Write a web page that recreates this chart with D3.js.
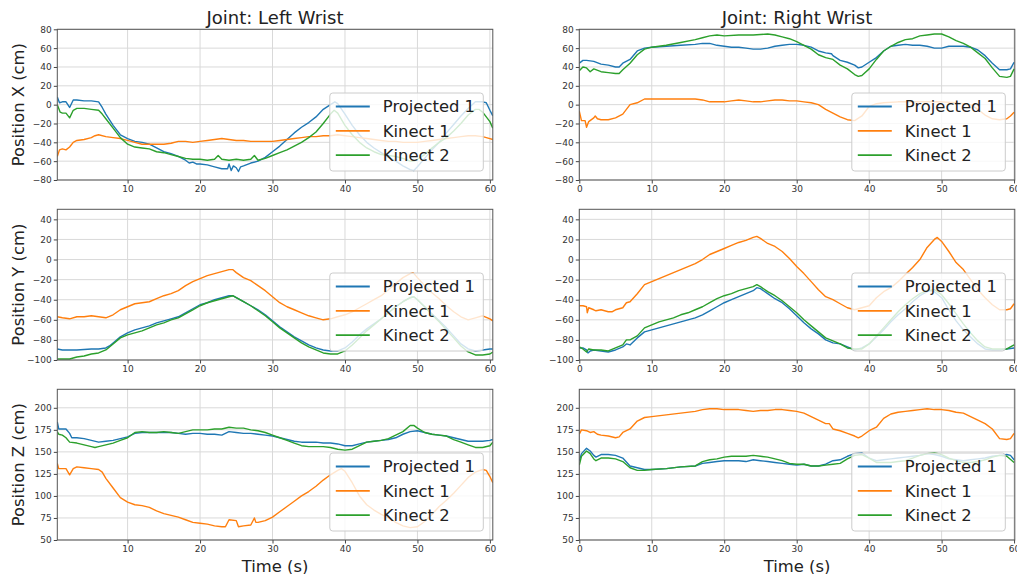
<!DOCTYPE html>
<html>
<head>
<meta charset="utf-8">
<script src="https://cdn.jsdelivr.net/npm/d3@7"></script>
<style>
  body { margin: 0; background: #fff; }
  svg { font-family: "DejaVu Sans", sans-serif; }
</style>
</head>
<body>
<svg id="chart" width="1017" height="574"></svg>
<script>
// series names + colours
var seriesNames = ["Projected 1", "Kinect 1", "Kinect 2"];
var seriesColors = ["#1f77b4", "#ff7f0e", "#2ca02c"];
var joints = ["Joint: Left Wrist", "Joint: Right Wrist"];
var rowLabels = ["Position X (cm)", "Position Y (cm)", "Position Z (cm)"];

// tick labels
var xTicksLeft = [10, 20, 30, 40, 50, 60];
var xTicksRight = [0, 10, 20, 30, 40, 50, 60];
var yTicksX = [-80, -60, -40, -20, 0, 20, 40, 60, 80];
var yTicksY = [-100, -80, -60, -40, -20, 0, 20, 40];
var yTicksZ = [50, 75, 100, 125, 150, 175, 200];

// ---- left wrist, X ----  [time (s), cm]
var leftX_proj = [[0.3,8],[0.6,2],[1,3],[1.5,3],[2,-3],[2.5,5],[3,5],[4,4],[5,4],[6,3],[6.5,-3],[7,-10],[8,-22],[9,-32],[10,-36],[11,-39],[12,-40],[13,-42],[14,-46],[15,-50],[16,-52],[17,-55],[18,-59],[18.5,-62],[19,-61],[19.5,-63],[20,-63],[21,-64],[22,-66],[23,-68],[23.8,-68],[24,-63],[24.3,-70],[24.6,-65],[25,-67],[25.3,-71],[25.6,-66],[26,-65],[27,-62],[28,-60],[29,-56],[30,-50],[31,-44],[32,-37],[33,-30],[34,-24],[35,-19],[36,-13],[37,-5],[38,0],[38.6,3],[39,1],[40,-10],[41,-22],[42,-32],[43,-40],[44,-46],[45,-51],[46,-56],[47,-60],[48,-65],[49,-69],[49.5,-70],[50,-66],[51,-57],[52,-48],[53,-40],[54,-30],[55,-21],[56,-12],[57,-4],[58,3],[59,3],[59.5,2],[60,-6],[60.4,-12]];
var leftX_k1 = [[0.3,-55],[0.6,-48],[1,-47],[1.5,-48],[2,-45],[2.5,-40],[3,-38],[4,-37],[5,-35],[5.5,-33],[6,-32],[7,-34],[8,-35],[9,-36],[10,-38],[11,-40],[12,-42],[13,-42],[14,-42],[15,-42],[16,-41],[17,-39],[18,-39],[19,-40],[20,-39],[21,-38],[22,-37],[23,-36],[24,-37],[25,-38],[26,-38],[27,-39],[28,-39],[29,-39],[30,-39],[31,-38],[32,-37],[33,-36],[34,-35],[35,-34],[36,-34],[37,-33],[38,-33],[39,-32],[40,-33],[41,-34],[42,-35],[43,-36],[44,-37],[45,-38],[46,-39],[47,-39],[48,-40],[49,-40],[50,-40],[51,-39],[52,-38],[53,-37],[54,-36],[55,-35],[56,-34],[57,-33],[58,-33],[59,-34],[60,-36],[60.4,-37]];
var leftX_k2 = [[0.3,0],[0.7,-8],[1,-9],[1.5,-9],[2,-14],[2.5,-6],[3,-4],[4,-4],[5,-5],[6,-6],[6.5,-10],[7,-15],[8,-25],[9,-35],[10,-42],[11,-45],[12,-46],[13,-47],[14,-50],[15,-51],[16,-53],[17,-55],[18,-57],[19,-58],[20,-58],[21,-59],[22,-58],[22.5,-54],[23,-58],[24,-59],[25,-58],[26,-59],[27,-58],[27.5,-54],[28,-59],[29,-57],[30,-54],[31,-51],[32,-48],[33,-44],[34,-40],[35,-35],[36,-29],[37,-20],[38,-10],[38.5,-6],[39,-9],[40,-22],[41,-32],[42,-40],[43,-46],[44,-50],[45,-53],[46,-54],[47,-55],[48,-57],[49,-60],[49.5,-60],[50,-58],[51,-53],[52,-46],[53,-40],[54,-35],[55,-28],[56,-20],[57,-11],[58,-5],[58.5,-5],[59,-8],[60,-18],[60.4,-25]];

// ---- right wrist, X ----
var rightX_proj = [[0,44],[0.5,47],[1,47],[2,46],[3,43],[4,42],[5,40],[5.5,40],[6,44],[7,48],[8,57],[9,60],[10,61],[12,62],[14,63],[16,64],[17,65],[18,65],[19,63],[20,62],[21,61],[22,61],[23,60],[24,59],[25,59],[26,60],[27,62],[28,63],[29,64],[30,64],[31,63],[32,61],[33,57],[34,55],[34.8,54],[35,52],[36,47],[37,45],[38,42],[38.5,39],[39,40],[40,45],[41,50],[42,57],[43,62],[44,63],[45,64],[46,63],[47,63],[48,62],[49,60],[50,60],[51,62],[52,62],[53,62],[54,61],[55,58],[56,52],[57,44],[58,37],[59,37],[59.5,38],[60,45]];
var rightX_k1 = [[0,-7],[0.3,-17],[0.8,-17],[1,-24],[1.3,-18],[2,-14],[2.2,-12],[2.5,-15],[3,-16],[4,-16],[5,-14],[6,-10],[6.5,-5],[7,0],[8,2],[9,6],[10,6],[12,6],[14,6],[16,6],[17,5],[18,3],[19,3],[20,3],[21,4],[22,5],[23,4],[24,3],[25,3],[26,4],[27,5],[28,5],[29,4],[30,4],[31,3],[32,2],[33,0],[34,-5],[35,-9],[36,-13],[37,-16],[38,-17],[39,-12],[40,-2],[41,1],[42,2],[44,3],[46,3],[48,3],[50,3],[52,2],[54,0],[55,-5],[56,-11],[57,-15],[58,-16],[59,-15],[59.5,-12],[60,-8]];
var rightX_k2 = [[0,36],[0.5,40],[1,39],[1.5,35],[2,38],[3,35],[4,34],[5,33],[5.5,33],[6,37],[7,44],[8,53],[9,59],[10,61],[12,63],[14,66],[16,69],[17,71],[18,73],[19,74],[20,73],[22,74],[24,74],[26,75],[27,74],[28,72],[29,70],[30,67],[31,63],[32,59],[33,53],[34,50],[35,48],[36,42],[37,38],[38,32],[38.5,30],[39,31],[40,38],[41,48],[42,57],[43,62],[44,66],[45,69],[46,70],[47,73],[48,74],[49,75],[50,75],[51,72],[52,68],[53,65],[54,61],[55,55],[56,49],[57,39],[58,30],[59,29],[59.5,30],[60,38]];

// ---- left wrist, Y ----
var leftY_proj = [[0.3,-89],[1,-90],[2,-90],[3,-90],[4,-89.5],[5,-89],[6,-89],[7,-88],[7.5,-86],[8,-83],[9,-77],[10,-73],[11,-70],[12,-68],[13,-66],[14,-63],[15,-61],[16,-59],[17,-57],[18,-53],[19,-49],[20,-45],[21,-43],[22,-40],[23,-38],[24,-36],[24.5,-36],[25,-38],[26,-42],[27,-46],[28,-50],[29,-55],[30,-61],[31,-67],[32,-72],[33,-77],[34,-81],[35,-85],[36,-88],[37,-90],[38,-91],[39,-91],[40,-88],[41,-82],[42,-75],[43,-69],[44,-64],[45,-59],[46,-53],[47,-47],[48,-42],[49,-38],[49.5,-37],[50,-40],[51,-47],[52,-54],[53,-61],[54,-68],[55,-76],[56,-84],[57,-89],[58,-91],[59,-90],[60,-89],[60.4,-89]];
var leftY_k1 = [[0.3,-57],[1,-58],[2,-59],[3,-57],[4,-57],[5,-56],[6,-57],[7,-58],[8,-55],[9,-50],[10,-47],[11,-44],[12,-43],[13,-42],[14,-39],[15,-36],[16,-34],[17,-31],[18,-26],[19,-22],[20,-19],[21,-16],[22,-14],[23,-12],[24,-10],[24.5,-10],[25,-13],[26,-18],[27,-21],[28,-26],[29,-31],[30,-37],[31,-43],[32,-47],[33,-50],[34,-53],[35,-56],[36,-58],[37,-60],[38,-59],[39,-57],[40,-55],[41,-52],[42,-48],[43,-44],[44,-40],[45,-36],[46,-30],[47,-24],[48,-18],[49,-14],[49.4,-13],[50,-18],[51,-26],[52,-33],[53,-39],[54,-46],[55,-52],[56,-57],[57,-60],[58,-58],[59,-56],[60,-59],[60.4,-61]];
var leftY_k2 = [[0.3,-99],[1,-99],[2,-99],[3,-97],[4,-96],[5,-94],[6,-93],[7,-90],[8,-84],[9,-78],[10,-75],[11,-73],[12,-71],[13,-68],[14,-65],[15,-63],[16,-60],[17,-58],[18,-54],[19,-50],[20,-46],[21,-43],[22,-41],[23,-39],[24,-37],[24.5,-36],[25,-38],[26,-42],[27,-46],[28,-51],[29,-56],[30,-62],[31,-68],[32,-73],[33,-78],[34,-83],[35,-87],[36,-90],[37,-93],[38,-94],[39,-94],[40,-91],[41,-85],[42,-78],[43,-71],[44,-65],[45,-59],[46,-53],[47,-47],[48,-42],[49,-38],[49.5,-37],[50,-40],[51,-47],[52,-55],[53,-62],[54,-70],[55,-78],[56,-86],[57,-92],[58,-95],[59,-95],[60,-94],[60.4,-92]];

// ---- right wrist, Y ----
var rightY_proj = [[0,-88],[0.5,-88],[1,-90],[1.2,-93],[1.5,-91],[2,-90],[3,-91],[4,-92],[5,-90],[6,-87],[6.5,-84],[7,-85],[8,-78],[9,-72],[10,-70],[11,-68],[12,-66],[13,-64],[14,-62],[15,-60],[16,-58],[17,-55],[18,-51],[19,-47],[20,-43],[21,-40],[22,-37],[23,-34],[24,-31],[24.5,-28],[25,-29],[26,-34],[27,-39],[28,-43],[29,-49],[30,-56],[31,-63],[32,-69],[33,-74],[34,-80],[35,-83],[36,-84],[37,-87],[38,-90],[39,-88],[40,-84],[41,-77],[42,-70],[43,-62],[44,-55],[45,-49],[46,-42],[47,-36],[48,-32],[48.5,-31],[49,-32],[50,-38],[51,-50],[52,-61],[53,-70],[54,-77],[55,-84],[56,-89],[57,-90],[58,-90],[59,-89],[60,-88]];
var rightY_k1 = [[0,-46],[0.5,-46],[1,-47],[1.1,-53],[1.3,-48],[2,-50],[2.3,-51],[3,-50],[4,-52],[4.5,-52],[5,-50],[6,-48],[6.5,-43],[7,-42],[8,-34],[9,-25],[10,-22],[11,-19],[12,-16],[13,-13],[14,-10],[15,-7],[16,-4],[17,0],[18,5],[19,8],[20,11],[21,14],[22,17],[23,19],[24,22],[24.5,23],[25,21],[26,16],[27,13],[28,8],[29,1],[30,-7],[31,-14],[32,-22],[33,-30],[34,-37],[35,-40],[36,-44],[37,-48],[38,-50],[39,-48],[40,-46],[41,-38],[42,-32],[43,-28],[44,-22],[45,-15],[46,-8],[47,0],[48,12],[49,20],[49.4,22],[50,18],[51,8],[52,-3],[53,-10],[54,-20],[55,-30],[56,-38],[57,-45],[58,-50],[59,-50],[59.5,-49],[60,-44]];
var rightY_k2 = [[0,-87],[0.5,-89],[1,-92],[1.3,-89],[2,-90],[3,-90],[4,-91],[5,-88],[6,-85],[6.5,-80],[7,-80],[8,-76],[9,-68],[10,-65],[11,-62],[12,-60],[13,-58],[14,-55],[15,-53],[16,-50],[17,-47],[18,-43],[19,-39],[20,-36],[21,-34],[22,-31],[23,-29],[24,-27],[24.5,-25],[25,-27],[26,-32],[27,-36],[28,-41],[29,-47],[30,-53],[31,-60],[32,-66],[33,-72],[34,-78],[35,-81],[36,-84],[37,-88],[38,-89],[39,-89],[40,-84],[41,-76],[42,-68],[43,-60],[44,-52],[45,-45],[46,-39],[47,-34],[48,-31],[49,-30],[50,-35],[51,-44],[52,-54],[53,-64],[54,-73],[55,-81],[56,-87],[57,-89],[58,-89],[59,-89],[60,-85]];

// ---- left wrist, Z ----
var leftZ_proj = [[0.3,184],[0.5,176],[1,176],[1.5,176],[2,171],[2.3,166],[3,166],[4,165],[5,163],[6,161],[7,162],[8,163],[9,165],[10,167],[11,171],[12,172],[13,172],[14,172],[15,172],[16,172],[17,171],[18,170],[19,171],[20,171],[21,170],[22,170],[23,169],[24,173],[25,172],[26,171],[27,171],[28,170],[29,169],[30,168],[31,166],[32,164],[33,162],[34,161],[35,161],[36,161],[37,160],[38,160],[39,159],[40,157],[41,157],[42,159],[43,161],[44,162],[45,163],[46,164],[47,166],[48,170],[49,173],[50,174],[51,172],[52,170],[53,169],[54,168],[55,166],[56,164],[57,162],[58,162],[59,162],[60,163],[60.4,164]];
var leftZ_k1 = [[0.3,137],[0.5,131],[1,131],[1.5,131],[2,124],[2.5,131],[3,133],[4,132],[5,131],[6,130],[6.5,127],[7,120],[8,109],[9,98],[10,93],[11,90],[12,89],[13,87],[14,83],[15,80],[16,78],[17,76],[18,73],[19,70],[20,69],[21,68],[22,66],[23,65],[23.5,65],[24,73],[25,72],[25.3,65],[26,66],[27,67],[27.5,75],[27.7,70],[28,70],[29,72],[30,76],[31,82],[32,88],[33,94],[34,100],[35,105],[36,111],[37,118],[38,124],[39,129],[39.5,131],[40,128],[41,115],[42,100],[43,90],[44,84],[45,79],[46,75],[47,70],[48,66],[49,64],[50,65],[51,71],[52,79],[53,88],[54,95],[55,103],[56,112],[57,121],[58,127],[59,130],[59.5,129],[60,122],[60.4,115]];
var leftZ_k2 = [[0.3,173],[0.5,170],[1,169],[1.5,166],[2,161],[3,160],[4,158],[5,156],[5.5,155],[6,156],[7,158],[8,160],[9,163],[10,166],[11,172],[12,173],[13,172],[14,172],[15,173],[16,172],[17,171],[18,173],[19,175],[20,175],[21,175],[22,176],[23,176],[24,178],[25,177],[26,177],[27,175],[28,174],[29,172],[30,169],[31,166],[32,163],[33,160],[34,157],[35,156],[36,156],[37,156],[38,155],[39,153],[40,152],[41,153],[42,157],[43,161],[44,162],[45,163],[46,165],[47,169],[48,173],[49,180],[49.5,180],[50,177],[51,172],[52,170],[53,169],[54,168],[55,164],[56,161],[57,158],[58,155],[59,155],[60,157],[60.4,161]];

// ---- right wrist, Z ----
var rightZ_proj = [[0,140],[0.3,148],[1,154],[1.5,151],[2,146],[2.3,144],[3,147],[4,147],[5,146],[6,143],[7,134],[8,132],[9,130],[10,130],[12,131],[14,133],[16,134],[17,137],[18,138],[19,139],[20,140],[21,140],[22,140],[23,139],[24,141],[25,140],[26,139],[27,138],[28,137],[29,136],[30,135],[31,136],[32,134],[33,134],[34,136],[35,140],[36,141],[37,145],[38,148],[39,149],[40,143],[41,140],[42,141],[43,142],[44,143],[45,144],[46,145],[47,146],[48,148],[49,147],[50,145],[51,142],[52,141],[53,140],[54,141],[55,142],[56,143],[57,145],[58,146],[59,147],[59.5,146],[60,141]];
var rightZ_k1 = [[0,170],[0.3,175],[1,174],[1.5,172],[2,173],[2.5,170],[3,169],[4,168],[5,166],[5.5,167],[6,172],[7,176],[8,185],[9,189],[10,190],[12,192],[14,194],[16,196],[17,198],[18,199],[19,199],[20,198],[21,198],[22,198],[23,197],[24,196],[25,197],[26,197],[27,198],[28,198],[29,197],[30,196],[31,194],[32,190],[33,186],[34,182],[34.5,182],[35,176],[36,174],[37,171],[38,168],[38.5,166],[39,168],[40,174],[41,178],[42,188],[43,193],[44,195],[45,196],[46,197],[47,198],[48,199],[49,198],[50,198],[51,197],[52,195],[53,194],[54,190],[55,186],[56,182],[57,176],[58,165],[59,164],[59.5,165],[60,171]];
var rightZ_k2 = [[0,135],[0.3,145],[1,151],[1.5,148],[2,142],[2.3,140],[3,143],[4,143],[5,142],[6,139],[7,132],[8,129],[9,129],[10,130],[12,131],[14,133],[16,134],[17,139],[18,141],[19,142],[20,144],[21,145],[22,145],[23,145],[24,146],[25,145],[26,144],[27,142],[28,140],[29,137],[30,136],[31,136],[32,134],[33,134],[34,135],[35,136],[36,137],[37,142],[38,146],[39,147],[40,143],[41,138],[42,138],[43,138],[44,139],[45,140],[46,143],[47,146],[48,148],[49,149],[50,147],[51,143],[52,140],[53,138],[54,138],[55,139],[56,141],[57,144],[58,146],[59,145],[60,138]];

// panel layout
var colLeft = [57.3, 579.3];
var rowTop = [29.3, 209.3, 389.3];
var pw = 435.5, ph = 150.7;
var xDomains = [[0.3, 60.4], [0, 60.1]];
var yDomains = [[-80, 80], [-100, 50], [50, 221]];
var yTicks = [yTicksX, yTicksY, yTicksZ];
var xTicks = [xTicksLeft, xTicksRight];
var panelData = [
  [[leftX_proj, leftX_k1, leftX_k2], [rightX_proj, rightX_k1, rightX_k2]],
  [[leftY_proj, leftY_k1, leftY_k2], [rightY_proj, rightY_k1, rightY_k2]],
  [[leftZ_proj, leftZ_k1, leftZ_k2], [rightZ_proj, rightZ_k1, rightZ_k2]]
];

var svg = d3.select("#chart");

for (var r = 0; r < 3; r++) {
  for (var c = 0; c < 2; c++) {
    drawPanel(r, c);
  }
}

function drawPanel(r, c) {
  var x = d3.scaleLinear().domain(xDomains[c]).range([0, pw]);
  var y = d3.scaleLinear().domain(yDomains[r]).range([ph, 0]);
  var g = svg.append("g").attr("transform", "translate(" + colLeft[c] + "," + rowTop[r] + ")");
  var id = "clip" + r + c;

  g.append("clipPath").attr("id", id)
    .append("rect").attr("width", pw).attr("height", ph);

  // grid
  g.selectAll(".gx").data(xTicks[c]).enter().append("line")
    .attr("x1", function(d) { return x(d); }).attr("x2", function(d) { return x(d); })
    .attr("y1", 0).attr("y2", ph)
    .attr("stroke", "#d9d9d9").attr("stroke-width", 1);
  g.selectAll(".gy").data(yTicks[r]).enter().append("line")
    .attr("y1", function(d) { return y(d); }).attr("y2", function(d) { return y(d); })
    .attr("x1", 0).attr("x2", pw)
    .attr("stroke", "#d9d9d9").attr("stroke-width", 1);

  // lines
  var line = d3.line().x(function(d) { return x(d[0]); }).y(function(d) { return y(d[1]); });
  var lg = g.append("g").attr("clip-path", "url(#" + id + ")");
  panelData[r][c].forEach(function(s, i) {
    lg.append("path").attr("d", line(s))
      .attr("fill", "none").attr("stroke", seriesColors[i])
      .attr("stroke-width", 1.4).attr("stroke-linejoin", "round");
  });

  // axes
  var xa = g.append("g").attr("transform", "translate(0," + ph + ")")
    .call(d3.axisBottom(x).tickValues(xTicks[c]).tickSize(3.5).tickPadding(2).tickFormat(d3.format("d")));
  var ya = g.append("g")
    .call(d3.axisLeft(y).tickValues(yTicks[r]).tickSize(3.5).tickPadding(2).tickFormat(d3.format("d")));
  [xa, ya].forEach(function(a) {
    a.select(".domain").remove();
    a.selectAll("line").attr("stroke", "#444");
    a.selectAll("text").attr("fill", "#333").style("font-size", "9px").style("font-family", "DejaVu Sans");
  });

  // frame
  g.append("rect").attr("width", pw).attr("height", ph)
    .attr("fill", "none").attr("stroke", "#555").attr("stroke-width", 1);

  // legend, lower right
  var lw = 153.5, lh = 78;
  var leg = g.append("g").attr("transform", "translate(" + (pw - 9.5 - lw) + "," + (ph - 9 - lh) + ")");
  leg.append("rect").attr("width", lw).attr("height", lh).attr("rx", 3)
    .attr("fill", "#fff").attr("fill-opacity", 0.8)
    .attr("stroke", "#cccccc").attr("stroke-width", 1);
  seriesNames.forEach(function(n, i) {
    var yy = 13.5 + i * 24.3;
    leg.append("line").attr("x1", 6).attr("x2", 40).attr("y1", yy).attr("y2", yy)
      .attr("stroke", seriesColors[i]).attr("stroke-width", 1.8);
    leg.append("text").attr("x", 53).attr("y", yy).attr("dy", "0.35em")
      .attr("fill", "#222").style("font-size", "16.4px").text(n);
  });

  if (r === 0) {
    g.append("text").attr("x", pw / 2).attr("y", -5.5).attr("text-anchor", "middle")
      .attr("fill", "#222").style("font-size", "18px").text(joints[c]);
  }
  if (c === 0) {
    svg.append("text")
      .attr("transform", "translate(24," + (rowTop[r] + ph / 2) + ") rotate(-90)")
      .attr("text-anchor", "middle").attr("fill", "#222").style("font-size", "16.4px")
      .text(rowLabels[r]);
  }
  if (r === 2) {
    g.append("text").attr("x", pw / 2).attr("y", ph + 32.5).attr("text-anchor", "middle")
      .attr("fill", "#222").style("font-size", "16.4px").text("Time (s)");
  }
}
</script>
</body>
</html>
